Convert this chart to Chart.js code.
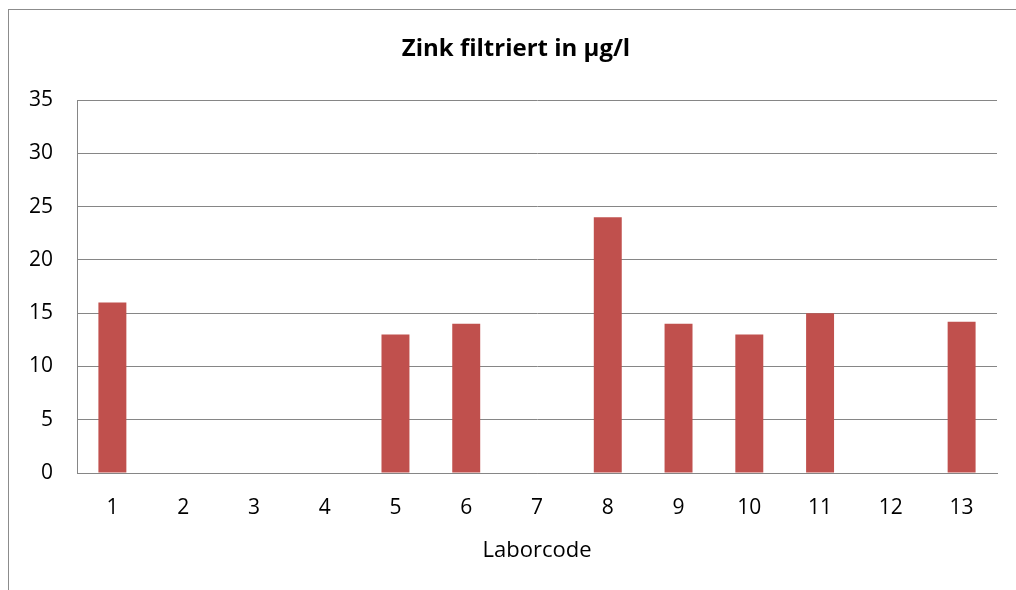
<!DOCTYPE html>
<html>
<head>
<meta charset="utf-8">
<script src="https://cdn.jsdelivr.net/npm/chart.js@4"></script>
<style>
  html, body { margin: 0; padding: 0; background: #fff; overflow: hidden; }
  #frame { position: absolute; left: 8px; top: 9px; width: 1100px; height: 700px; border: 1px solid #8c8c8c; }
  #wrap { position: absolute; left: 0; top: 0; width: 1016px; height: 590px; overflow: hidden; }
</style>
</head>
<body>
<div id="frame"></div>
<div id="wrap"><canvas id="chart" width="1032" height="590"></canvas></div>
<script>
// Daten
const labels = ["1", "2", "3", "4", "5", "6", "7", "8", "9", "10", "11", "12", "13"];
const zinkWerte = [16, null, null, null, 13, 14, null, 24, 14, 13, 15, null, 14.2];
const yTicks = [0, 5, 10, 15, 20, 25, 30, 35];

const fontFamily = "'Open Sans', sans-serif";
const gridColor = "#868686";

const ctx = document.getElementById("chart").getContext("2d");
const chart = new Chart(ctx, {
    type: "bar",
    data: {
        labels: labels,
        datasets: [{
            label: "Zink filtriert in µg/l",
            data: zinkWerte,
            backgroundColor: "#C0504D",
            barPercentage: 0.79,
            categoryPercentage: 0.5
        }]
    },
    options: {
        responsive: false,
        animation: false,
        layout: { padding: 0 },
        plugins: {
            legend: { display: false },
            tooltip: { enabled: false },
            title: {
                display: true,
                text: "Zink filtriert in µg/l",
                color: "#000",
                font: { family: fontFamily, size: 24, weight: "bold" },
                padding: { top: 35, bottom: 36.2 }
            }
        },
        scales: {
            x: {
                grid: { display: false, drawTicks: false },
                border: { color: gridColor, width: 1 },
                ticks: { color: "#000", font: { family: fontFamily, size: 21 }, padding: 22 },
                title: {
                    display: true,
                    text: "Laborcode",
                    color: "#000",
                    font: { family: fontFamily, size: 22 },
                    padding: { top: 8, bottom: 26 }
                },
                afterFit: scale => { scale.height = 117; }
            },
            y: {
                min: 0,
                max: 35,
                afterBuildTicks: scale => { scale.ticks = yTicks.map(v => ({ value: v })); },
                grid: { color: gridColor, lineWidth: 1, drawTicks: false },
                border: { color: gridColor, width: 1 },
                ticks: { color: "#000", font: { family: fontFamily, size: 21 }, padding: 24 },
                afterFit: scale => { scale.width = 77; }
            },
            // leere Achse rechts, nur als Abstand
            rechts: {
                position: "right",
                min: 0,
                max: 35,
                grid: { display: false, drawTicks: false },
                border: { display: false },
                ticks: { display: false },
                afterFit: scale => { scale.width = 35; }
            }
        }
    }
});
</script>
</body>
</html>
